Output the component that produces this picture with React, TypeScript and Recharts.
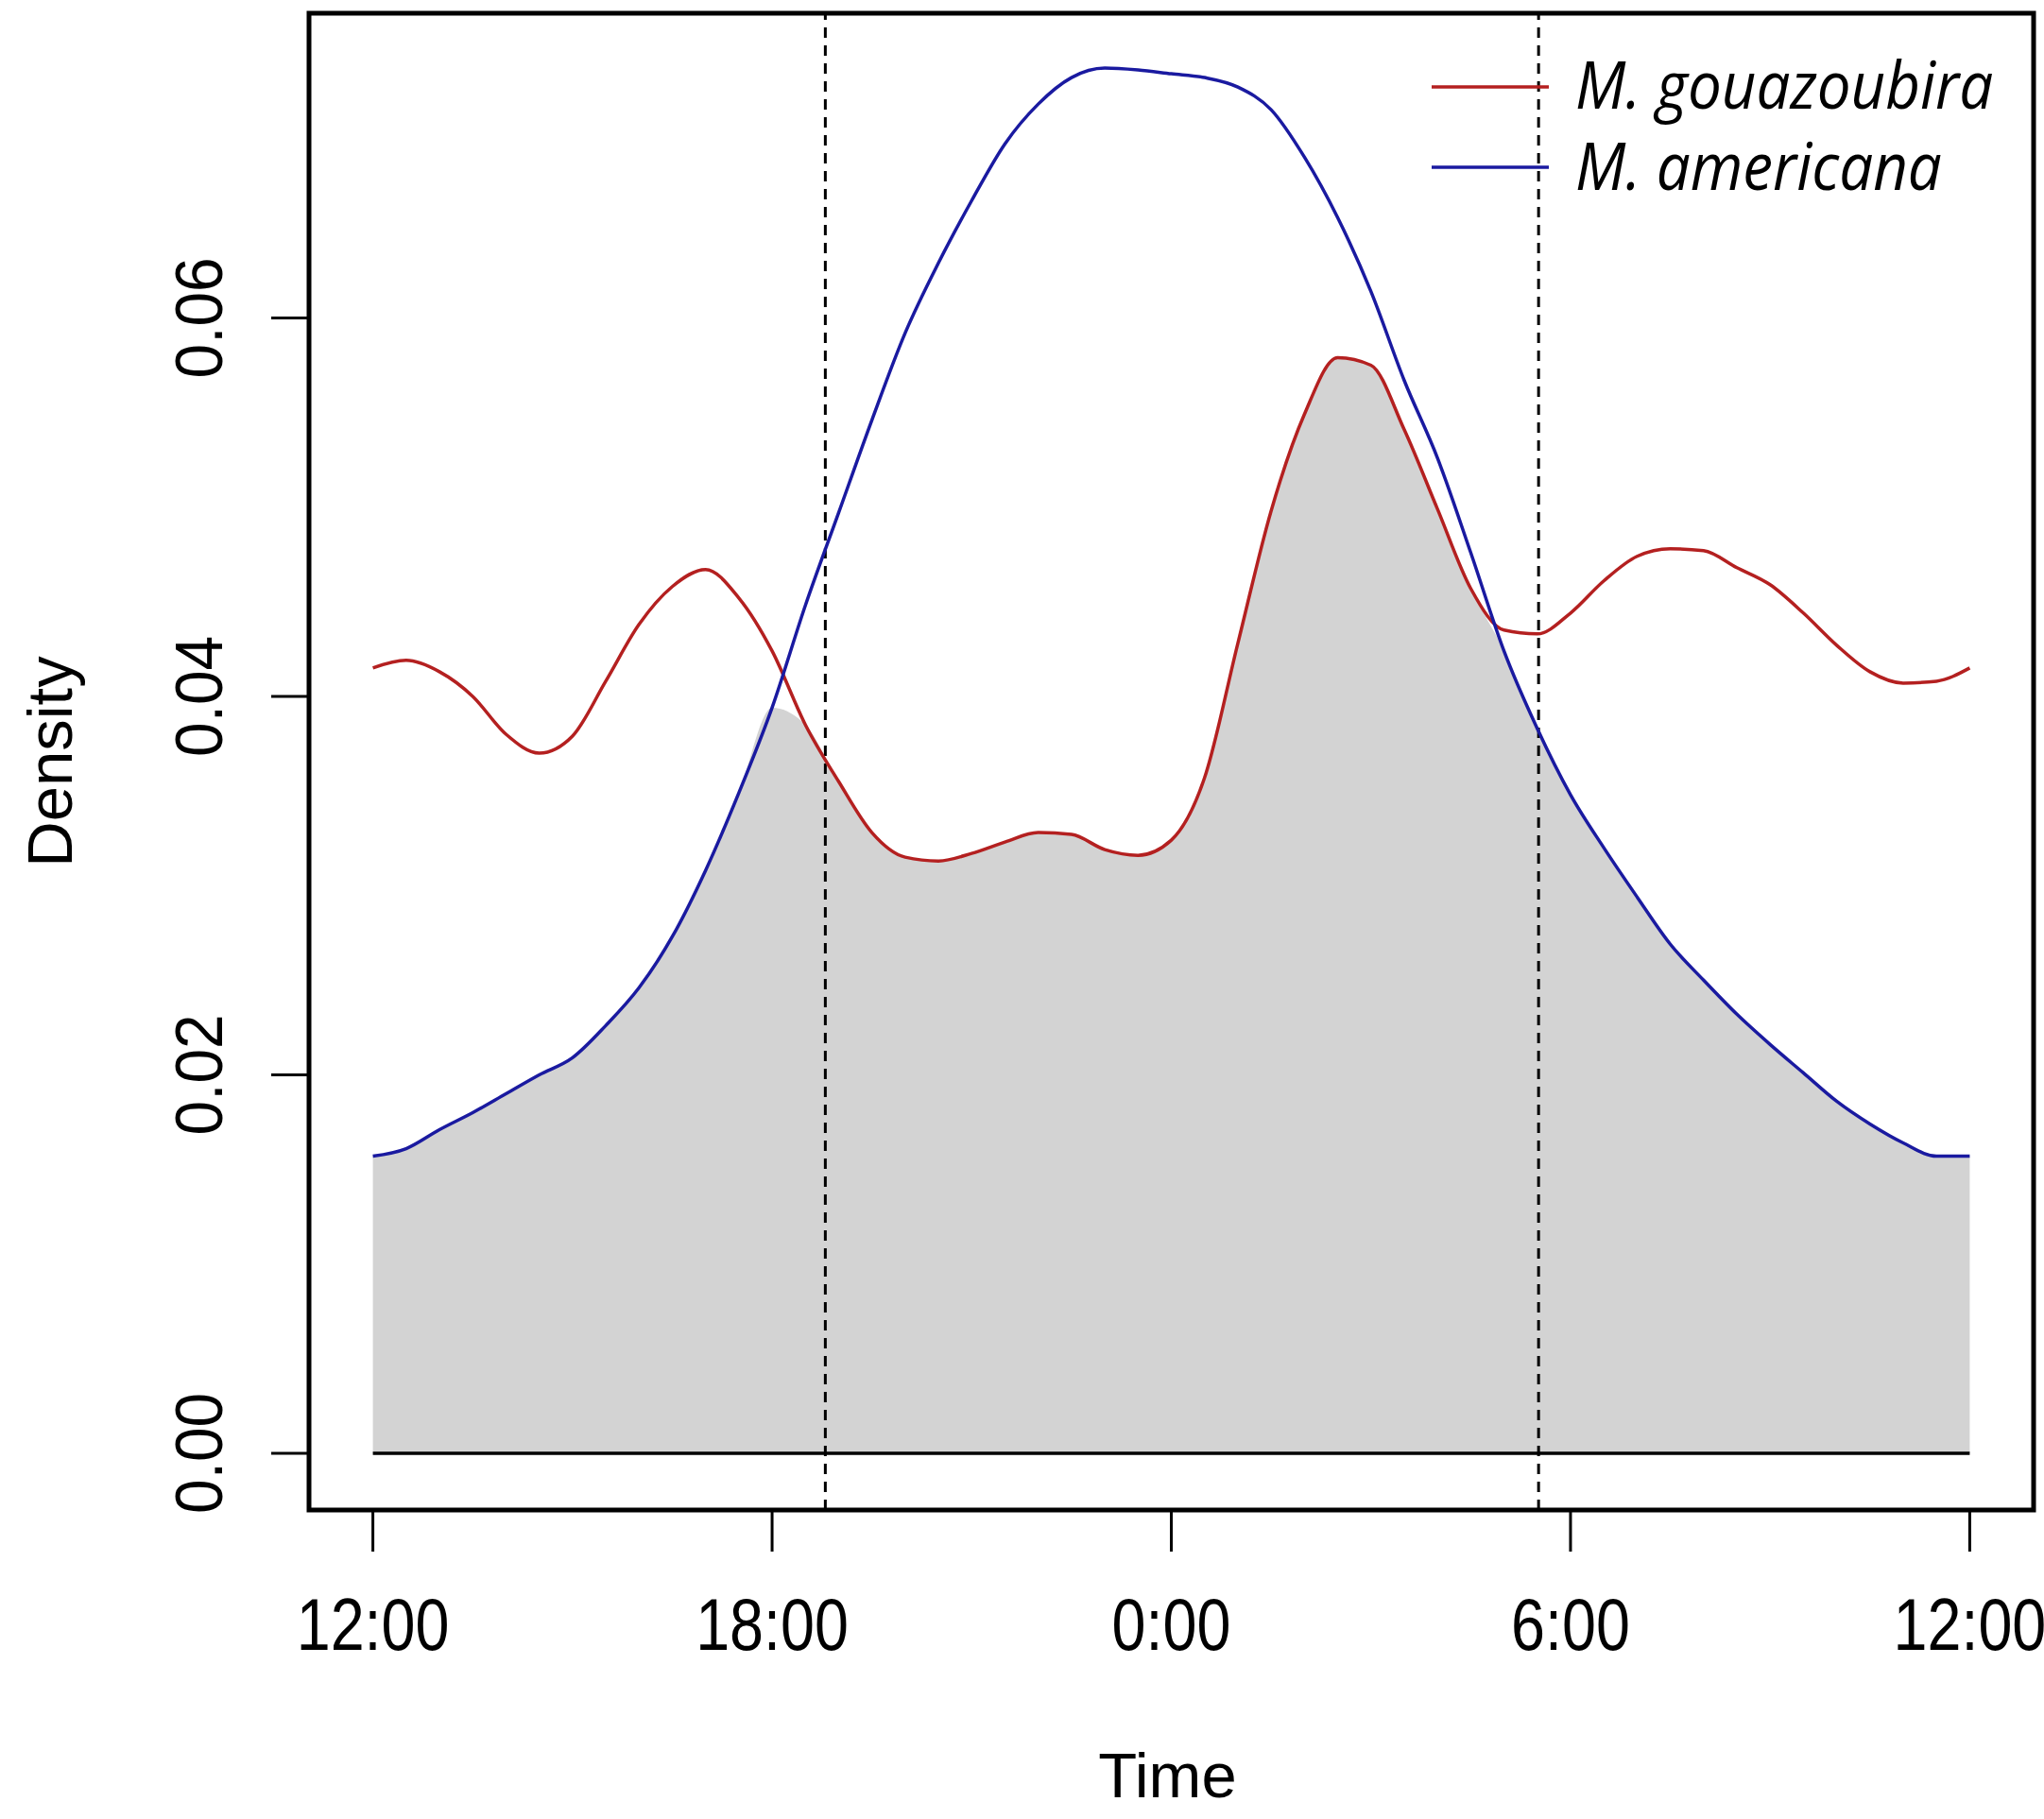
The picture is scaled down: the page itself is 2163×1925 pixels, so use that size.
import React from 'react';
import { ComposedChart, Area, Line, XAxis, YAxis, ReferenceLine, ReferenceArea, Legend } from 'recharts';

// hours after 12:00 (noon to noon)
const hours = [
  0, 0.5, 1, 1.5, 2, 2.5, 3, 3.5, 4, 4.5, 5, 5.5, 6, 6.5, 7, 7.5, 8, 8.5, 9, 9.5, 10, 10.5, 11, 11.5,
  12, 12.5, 13, 13.5, 14, 14.5, 15, 15.5, 16, 16.5, 17, 17.5, 18, 18.5, 19, 19.5, 20, 20.5, 21, 21.5,
  22, 22.5, 23, 23.5, 24,
];

const gouazoubira = [
  0.0415, 0.0419, 0.0413, 0.04, 0.038, 0.037, 0.0379, 0.0408, 0.0438, 0.0458, 0.0467, 0.0452, 0.0424,
  0.0385, 0.0355, 0.0328, 0.0315, 0.0313, 0.0317, 0.0323, 0.0328, 0.0327, 0.0319, 0.0316, 0.0324,
  0.0357, 0.0428, 0.0498, 0.0549, 0.0579, 0.0575, 0.0541, 0.0499, 0.0457, 0.0435, 0.0433, 0.0444,
  0.0461, 0.0474, 0.0478, 0.0477, 0.0468, 0.0459, 0.0444, 0.0427, 0.0413, 0.0407, 0.0408, 0.0415,
];

const americana = [
  0.0157, 0.0161, 0.0171, 0.018, 0.019, 0.02, 0.0209, 0.0226, 0.0246, 0.0273, 0.0308, 0.0349, 0.0394,
  0.0448, 0.0497, 0.0546, 0.0592, 0.0629, 0.0662, 0.0692, 0.0713, 0.0727, 0.0732, 0.0731, 0.0729,
  0.0727, 0.0722, 0.071, 0.0685, 0.0653, 0.0614, 0.0567, 0.0526, 0.0476, 0.0424, 0.0383, 0.0348,
  0.032, 0.0294, 0.0269, 0.025, 0.0232, 0.0216, 0.0201, 0.0186, 0.0174, 0.0164, 0.0157, 0.0157,
];

const xTicks = [0, 6, 12, 18, 24];
const xTickLabels = ['12:00', '18:00', '0:00', '6:00', '12:00'];
const yTicks = [0, 0.02, 0.04, 0.06];
const yTickLabels = ['0.00', '0.02', '0.04', '0.06'];

// sunset / sunrise markers
const twilight = [6.8, 17.52];

const legendOrder = ['gouazoubira', 'americana'];
const legendNames = ['M. gouazoubira', 'M. americana'];

const RED = '#B42020';
const BLUE = '#1A1AA0';

const data = hours.map((h, i) => ({
  h,
  gouazoubira: gouazoubira[i],
  americana: americana[i],
  overlap: Math.min(gouazoubira[i], americana[i]),
}));

const XTick = (props: any) => {
  const { x, y, index } = props;
  return (
    <g transform={`translate(${x},${y + 102})`}>
      <text transform="scale(0.84,1)" textAnchor="middle" fontSize={77} fill="#000">
        {xTickLabels[index]}
      </text>
    </g>
  );
};

const YTick = (props: any) => {
  const { x, y, index } = props;
  return (
    <g transform={`translate(${x - 50},${y}) rotate(-90)`}>
      <text transform="scale(0.94,1)" textAnchor="middle" fontSize={70} fill="#000">
        {yTickLabels[index]}
      </text>
    </g>
  );
};

const TimeTitle = (props: any) => {
  const { viewBox } = props;
  return (
    <text x={viewBox.x + viewBox.width / 2 - 4} y={viewBox.y + 304} textAnchor="middle" fontSize={67} fill="#000">
      Time
    </text>
  );
};

const DensityTitle = (props: any) => {
  const { viewBox } = props;
  const cy = viewBox.y + viewBox.height / 2;
  return (
    <text transform={`translate(76,${cy}) rotate(-90)`} textAnchor="middle" fontSize={67} fill="#000">
      Density
    </text>
  );
};

const LegendBox = (props: any) => {
  const items = (props.payload || []).filter((p: any) => p.type !== 'none');
  const colorOf = (key: string) => {
    const found = items.find((p: any) => p.dataKey === key);
    return found ? found.color : '#000';
  };
  return (
    <svg width={663} height={250} style={{ display: 'block' }}>
      {legendOrder.map((key, i) => (
        <g key={key}>
          <line x1={15} x2={139} y1={92 + i * 85} y2={92 + i * 85} stroke={colorOf(key)} strokeWidth={3.5} />
          <g transform={`translate(167,${115 + i * 86})`}>
            <text
              transform="scale(0.91,1)"
              fontFamily="'Open Sans', sans-serif"
              fontStyle="italic"
              fontSize={70}
              fill="#000"
            >
              {legendNames[i]}
            </text>
          </g>
        </g>
      ))}
    </svg>
  );
};

export default function App() {
  return (
    <div style={{ position: 'absolute', left: 0, top: 0, background: '#fff', fontFamily: "'Liberation Sans', Arial, sans-serif" }}>
      <ComposedChart width={2163} height={1925} data={data} margin={{ top: 14, right: 11, left: 0, bottom: 0 }}>
        <XAxis
          dataKey="h"
          type="number"
          domain={[-0.96, 24.96]}
          allowDataOverflow
          ticks={xTicks}
          interval={0}
          axisLine={false}
          tickLine={{ stroke: '#000', strokeWidth: 3 }}
          tickSize={44}
          tick={<XTick />}
          height={327}
          label={<TimeTitle />}
        />
        <YAxis
          type="number"
          domain={[-0.003, 0.0761]}
          allowDataOverflow
          ticks={yTicks}
          interval={0}
          axisLine={false}
          tickLine={{ stroke: '#000', strokeWidth: 3 }}
          tickSize={40}
          tick={<YTick />}
          width={327}
          label={<DensityTitle />}
        />
        <Area
          dataKey="overlap"
          type="monotone"
          fill="#D3D3D3"
          fillOpacity={1}
          stroke="none"
          baseValue={0}
          legendType="none"
          isAnimationActive={false}
        />
        <ReferenceLine
          segment={[{ x: 0, y: 0 }, { x: 24, y: 0 }]}
          stroke="#000"
          strokeWidth={3.5}
          ifOverflow="visible"
        />
        {twilight.map((t) => (
          <ReferenceLine key={t} x={t} stroke="#000" strokeWidth={3} strokeDasharray="11 8" />
        ))}
        <Line
          dataKey="gouazoubira"
          name="M. gouazoubira"
          type="monotone"
          stroke={RED}
          strokeWidth={3.5}
          dot={false}
          isAnimationActive={false}
        />
        <Line
          dataKey="americana"
          name="M. americana"
          type="monotone"
          stroke={BLUE}
          strokeWidth={3.5}
          dot={false}
          isAnimationActive={false}
        />
        <ReferenceArea
          x1={-0.96}
          x2={24.96}
          y1={-0.003}
          y2={0.0761}
          fill="none"
          stroke="#000"
          strokeWidth={5}
          ifOverflow="visible"
        />
        <Legend
          layout="vertical"
          align="center"
          verticalAlign="middle"
          content={<LegendBox />}
          wrapperStyle={{ position: 'absolute', left: 1500, top: 0, width: 663, height: 250 }}
        />
      </ComposedChart>
    </div>
  );
}
